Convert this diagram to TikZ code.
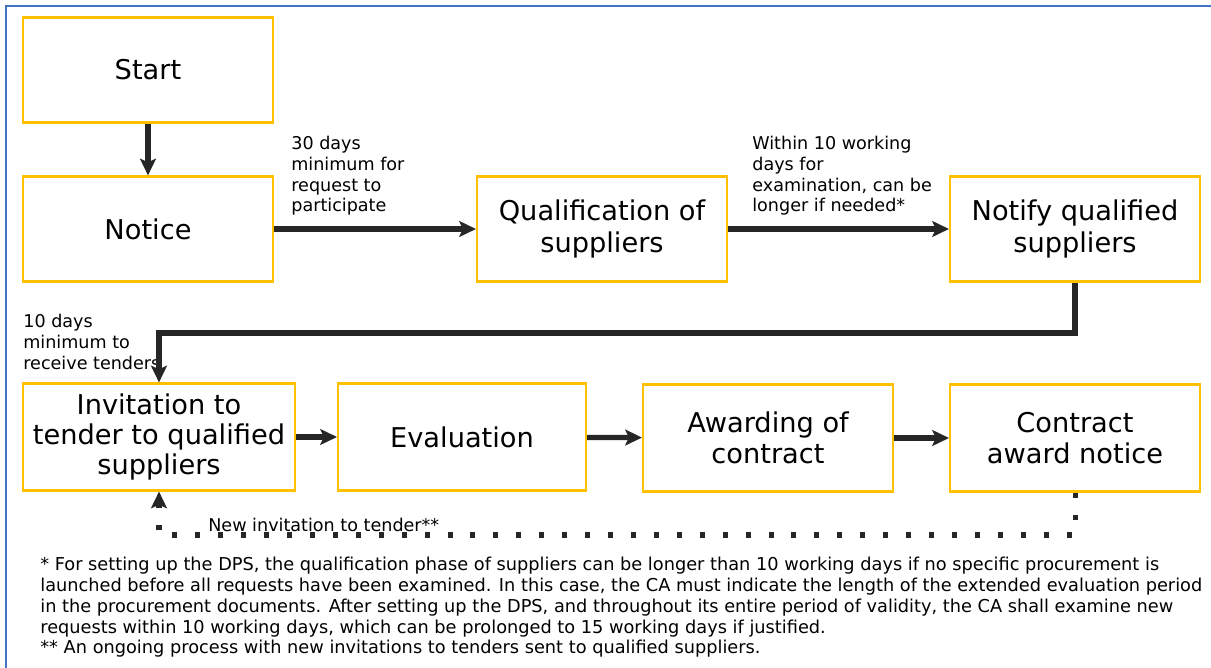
\documentclass[tikz,border=0pt]{standalone}
\usepackage{fontspec}
\setmainfont{DejaVu Sans}
\usepackage{xcolor}
\usetikzlibrary{arrows.meta}

\definecolor{boxgold}{HTML}{FFC000}
\definecolor{flowgrey}{HTML}{262626}
\definecolor{frameblue}{HTML}{4472C4}

\tikzset{
	stepbox/.style={draw=boxgold, line width=1.2pt, inner sep=0pt,
		minimum width=5cm, minimum height=2.1cm, align=center,
		font=\fontsize{15.5}{18}\selectfont},
	flow/.style={draw=flowgrey, line width=3pt,
		-{Stealth[length=9.5pt,width=9pt,inset=2pt]}},
	loopback/.style={draw=flowgrey, line width=2.85pt,
		dash pattern=on 2.85pt off 10.2pt,
		-{Stealth[length=9.5pt,width=9pt,inset=2pt]}},
	note/.style={inner sep=0pt, align=left,
		font=\fontsize{10}{11.8}\selectfont}
}

\begin{document}
\begin{tikzpicture}[x=0.02cm,y=-0.02cm]
				\useasboundingbox (0,0) rectangle (1211,668);
				\draw[frameblue, line width=1.3pt] (6,668) -- (6,6) -- (1211,6);
				
				% upper row
				\node[stepbox] (start) at (148,70) {Start};
				\node[stepbox] (notice) at (148,229) {Notice};
				\node[stepbox] (qual) at (602,229) {Qualification of\\suppliers};
				\node[stepbox] (notify) at (1075,229) {Notify qualified\\suppliers};
				
				% lower row
				\node[stepbox, minimum width=5.44cm, minimum height=2.14cm,
					font=\fontsize{15.5}{17}\selectfont] (invite) at (159,437) {Invitation to\\tender to qualified\\suppliers};
				\node[stepbox, minimum width=4.96cm, minimum height=2.14cm] (eval) at (462,437) {Evaluation};
				\node[stepbox, minimum height=2.14cm] (award) at (768,438) {Awarding of\\contract};
				\node[stepbox, minimum height=2.14cm] (contract) at (1075,438) {Contract\\award notice};
				
				% time limits
				\node[note, anchor=north west] (limit30) at (291,136) {30 days\\minimum for\\request to\\participate};
				\node[note, anchor=north west] (limit10w) at (752,136) {Within 10 working\\days for\\examination, can be\\longer if needed*};
				\node[note, anchor=north west] (limit10) at (23,314) {10 days\\minimum to\\receive tenders};
				
				\coordinate (upper) at (0,333);
				\coordinate (lower) at (0,535);
				
				\draw[flow] (start) -- (notice);
				\foreach \x/\y in
				{notice/qual, qual/notify, invite/eval, eval/award, award/contract}{
					\draw[flow] (\x) -- (\y);
				}
				\draw[flow] (notify.south) -- (notify.south |- upper) -| (invite.north);
				\draw[loopback] (contract.south) -- (contract.south |- lower) -| (invite.south);
				\node[note, anchor=base west] (again) at (208,532) {New invitation to tender**};
				
				% footnotes
				\node[note, anchor=north west, font=\fontsize{10.1}{11.8}\selectfont] (foot) at (40,557) {* For setting up the DPS, the qualification phase of suppliers can be longer than 10 working days if no specific procurement is\\launched before all requests have been examined. In this case, the CA must indicate the length of the extended evaluation period\\in the procurement documents. After setting up the DPS, and throughout its entire period of validity, the CA shall examine new\\requests within 10 working days, which can be prolonged to 15 working days if justified.\\** An ongoing process with new invitations to tenders sent to qualified suppliers.};
			\end{tikzpicture}
\end{document}
